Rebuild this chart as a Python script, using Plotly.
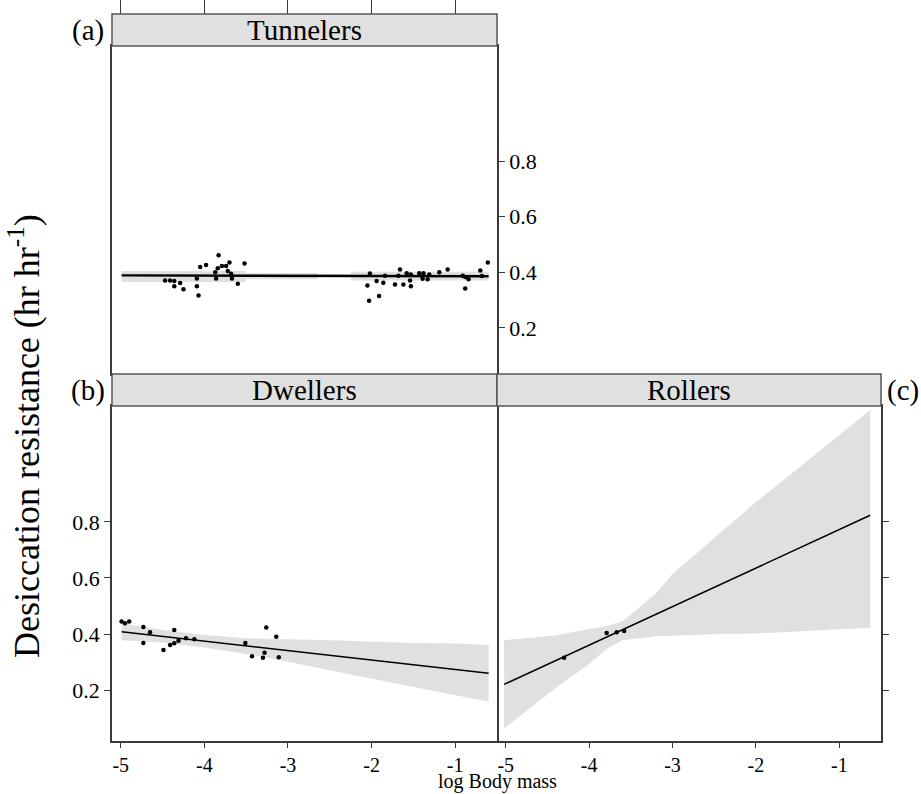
import plotly.graph_objects as go

# ---------------- data ----------------
tun_x = [-4.47, -4.41, -4.36, -4.36, -4.29, -4.25, -4.09, -4.09, -4.07, -4.05, -3.98,
         -3.87, -3.86, -3.84, -3.83, -3.79, -3.74, -3.72, -3.70, -3.68, -3.67, -3.60, -3.52,
         -2.05, -2.03, -2.02, -1.94, -1.91, -1.86, -1.84, -1.72, -1.68, -1.66, -1.62, -1.58,
         -1.54, -1.53, -1.53, -1.43, -1.39, -1.38, -1.33, -1.31, -1.19, -1.09, -0.91, -0.88,
         -0.88, -0.84, -0.70, -0.68, -0.61]
tun_y = [0.371, 0.371, 0.369, 0.350, 0.362, 0.339, 0.378, 0.350, 0.317, 0.419, 0.426,
         0.400, 0.378, 0.415, 0.461, 0.423, 0.423, 0.405, 0.435, 0.395, 0.378, 0.359, 0.432,
         0.353, 0.298, 0.396, 0.369, 0.315, 0.363, 0.388, 0.356, 0.388, 0.410, 0.356, 0.397,
         0.371, 0.350, 0.392, 0.397, 0.377, 0.397, 0.375, 0.392, 0.400, 0.410, 0.388, 0.383,
         0.342, 0.375, 0.407, 0.387, 0.435]
tun_fit_x = [-4.99, -0.60]
tun_fit_y = [0.389, 0.386]
tun_band_x = [-4.99, -3.51, -3.50, -2.65, -2.64, -2.25, -2.24, -0.60]
tun_band_hi = [0.405, 0.405, 0.398, 0.398, 0.393, 0.393, 0.402, 0.402]
tun_band_lo = [0.365, 0.365, 0.375, 0.375, 0.384, 0.384, 0.371, 0.371]

dwe_x = [-4.99, -4.95, -4.90, -4.73, -4.73, -4.65, -4.49, -4.41, -4.36, -4.36, -4.31,
         -4.22, -4.12, -3.51, -3.43, -3.30, -3.28, -3.26, -3.14, -3.11]
dwe_y = [0.445, 0.438, 0.445, 0.425, 0.368, 0.406, 0.343, 0.361, 0.367, 0.414, 0.376,
         0.385, 0.381, 0.368, 0.321, 0.315, 0.333, 0.423, 0.390, 0.317]
dwe_fit_x = [-4.99, -0.60]
dwe_fit_y = [0.408, 0.260]
dwe_band_x = [-4.99, -4.5, -4.0, -3.5, -3.0, -2.37, -1.5, -0.98, -0.60]
dwe_band_hi = [0.438, 0.414, 0.396, 0.385, 0.381, 0.377, 0.368, 0.366, 0.361]
dwe_band_lo = [0.378, 0.370, 0.352, 0.329, 0.301, 0.263, 0.212, 0.180, 0.159]

rol_x = [-4.30, -3.79, -3.67, -3.58]
rol_y = [0.315, 0.404, 0.406, 0.411]
rol_fit_x = [-5.02, -0.63]
rol_fit_y = [0.220, 0.824]
rol_band_x = [-5.02, -4.4, -4.0, -3.8, -3.6, -3.2, -3.0, -2.4, -2.0, -1.5, -0.63]
rol_band_hi = [0.378, 0.395, 0.418, 0.428, 0.445, 0.545, 0.614, 0.768, 0.871, 0.990, 1.200]
rol_band_lo = [0.062, 0.208, 0.293, 0.345, 0.378, 0.392, 0.395, 0.400, 0.402, 0.410, 0.422]

panel_titles = ["Tunnelers", "Dwellers", "Rollers"]
panel_tags = ["(a)", "(b)", "(c)"]
x_ticks = [-5, -4, -3, -2, -1]
x_ticklabels = ["-5", "-4", "-3", "-2", "-1"]
y_ticks = [0.2, 0.4, 0.6, 0.8]
y_ticklabels = ["0.2", "0.4", "0.6", "0.8"]
x_title = "log Body mass"
y_title = "Desiccation resistance (hr hr<sup>-1</sup>)"

# ---------------- layout geometry ----------------
W, H = 921, 794
ML, MR, MT, MB = 112, 40, 14, 53
PW, PH = W - ML - MR, H - MT - MB          # 769 x 727
BOT_H = 335
XSPLIT = 385 / PW
Y_BOT = [0, BOT_H / PH]
Y_STRIP_B = [BOT_H / PH, (BOT_H + 32) / PH]
Y_TOP = [(BOT_H + 32) / PH, (BOT_H + 360) / PH]
Y_STRIP_T = [(BOT_H + 360) / PH, 1.0]

FONT = "Liberation Serif, Times New Roman, serif"
BAND = "#e0e0e0"
AX = "#3a3a3a"
XR = [-5.105, -0.5]

fig = go.Figure()


def add_panel(xa, ya, bx, bhi, blo, fx, fy, px, py, lw):
    fig.add_trace(go.Scatter(x=list(bx) + list(bx)[::-1], y=list(bhi) + list(blo)[::-1],
                             fill="toself", fillcolor=BAND, line=dict(width=0),
                             mode="lines", hoverinfo="skip", showlegend=False,
                             xaxis=xa, yaxis=ya))
    fig.add_trace(go.Scatter(x=fx, y=fy, mode="lines", line=dict(color="black", width=lw),
                             showlegend=False, xaxis=xa, yaxis=ya))
    fig.add_trace(go.Scatter(x=px, y=py, mode="markers",
                             marker=dict(color="black", size=4.5),
                             showlegend=False, xaxis=xa, yaxis=ya))


add_panel("x", "y", tun_band_x, tun_band_hi, tun_band_lo, tun_fit_x, tun_fit_y, tun_x, tun_y, 2.4)
add_panel("x2", "y2", dwe_band_x, dwe_band_hi, dwe_band_lo, dwe_fit_x, dwe_fit_y, dwe_x, dwe_y, 1.5)
add_panel("x3", "y3", rol_band_x, rol_band_hi, rol_band_lo, rol_fit_x, rol_fit_y, rol_x, rol_y, 1.5)
# invisible trace on the top tick axis (ticks above the Tunnelers strip)
fig.add_trace(go.Scatter(x=tun_fit_x, y=tun_fit_y, mode="lines", line=dict(width=0),
                         opacity=0, hoverinfo="skip", showlegend=False,
                         xaxis="x4", yaxis="y"))

ytickfont = dict(family=FONT, size=22, color="black")
xtickfont = dict(family=FONT, size=20, color="black")
base_x = dict(range=XR, showgrid=False, zeroline=False, showline=True, linecolor=AX,
              linewidth=1.5, mirror=True, tickvals=x_ticks, ticktext=x_ticklabels,
              tickfont=xtickfont, ticklen=5, tickcolor=AX, tickwidth=1.2, automargin=False,
              ticklabelstandoff=0)
base_y = dict(showgrid=False, zeroline=False, showline=True, linecolor=AX,
              linewidth=1.5, tickvals=y_ticks, ticktext=y_ticklabels,
              tickfont=ytickfont, ticklen=6, tickcolor=AX, tickwidth=1.2, automargin=False)

fig.update_layout(
    width=W, height=H, margin=dict(l=ML, r=MR, t=MT, b=MB, autoexpand=False),
    plot_bgcolor="white", paper_bgcolor="white",
    font=dict(family=FONT, color="black"),
    xaxis=dict(base_x, domain=[0, XSPLIT], anchor="y", ticks="", showticklabels=False),
    yaxis=dict(base_y, domain=Y_TOP, anchor="x", range=[0.0347, 1.2132], side="right",
               mirror=True, ticks="outside", showticklabels=True),
    xaxis2=dict(base_x, domain=[0, XSPLIT], anchor="y2", ticks="outside", showticklabels=True),
    yaxis2=dict(base_y, domain=Y_BOT, anchor="x2", range=[0.018, 1.214], side="left",
                mirror=True, ticks="outside", showticklabels=True),
    xaxis3=dict(base_x, domain=[XSPLIT, 1], anchor="y3", ticks="outside", showticklabels=True),
    yaxis3=dict(base_y, domain=Y_BOT, anchor="x3", range=[0.018, 1.214], side="right",
                mirror=False, ticks="outside", showticklabels=False),
    xaxis4=dict(range=XR, overlaying="x", anchor="free", position=1.0, side="top",
                showgrid=False, zeroline=False, showline=False, tickvals=x_ticks,
                ticks="outside", ticklen=14, tickcolor=AX, tickwidth=1.2,
                showticklabels=False, automargin=False),
)

# strips
strips = [([0, XSPLIT], Y_STRIP_T), ([0, XSPLIT], Y_STRIP_B), ([XSPLIT, 1], Y_STRIP_B)]
for (sx, sy), title in zip(strips, panel_titles):
    fig.add_shape(type="rect", xref="paper", yref="paper", x0=sx[0], x1=sx[1],
                  y0=sy[0], y1=sy[1], fillcolor=BAND, line=dict(color="#555555", width=1.5),
                  layer="above")
    fig.add_annotation(xref="paper", yref="paper", x=(sx[0] + sx[1]) / 2,
                       y=(sy[0] + sy[1]) / 2, text=title, showarrow=False,
                       font=dict(family=FONT, size=29, color="black"),
                       xanchor="center", yanchor="middle")

# panel tags
tag_pos = [(-24 / PW, Y_STRIP_T), (-24 / PW, Y_STRIP_B), (1 + 22 / PW, Y_STRIP_B)]
for (tx, sy), tag in zip(tag_pos, panel_tags):
    fig.add_annotation(xref="paper", yref="paper", x=tx, y=(sy[0] + sy[1]) / 2,
                       text=tag, showarrow=False,
                       font=dict(family=FONT, size=29, color="black"),
                       xanchor="center", yanchor="middle")

# axis titles
fig.add_annotation(xref="paper", yref="paper", x=XSPLIT, y=-MB / PH, text=x_title,
                   showarrow=False, font=dict(family=FONT, size=20, color="black"),
                   xanchor="center", yanchor="bottom", borderpad=0)
fig.add_annotation(xref="paper", yref="paper", x=-88 / PW, y=(741 - 436) / PH,
                   text=y_title, textangle=-90, showarrow=False,
                   font=dict(family=FONT, size=36, color="black"),
                   xanchor="center", yanchor="middle")

fig.write_html("out.html", config={"displayModeBar": False},
               post_script="document.body.style.margin='0px';")
